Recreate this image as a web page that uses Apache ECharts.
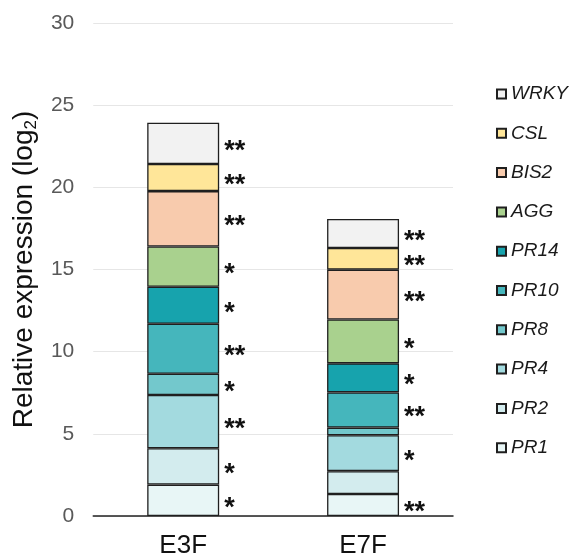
<!DOCTYPE html>
<html>
<head>
<meta charset="utf-8">
<script src="https://cdn.jsdelivr.net/npm/echarts@6/dist/echarts.min.js"></script>
<style>
html,body{margin:0;padding:0;background:#fff;}
#chart{width:573px;height:559px;}
</style>
</head>
<body>
<div id="chart"></div>
<script>
// Categories and tick settings
const categories = ['E3F', 'E7F'];
const yTicks = [0, 5, 10, 15, 20, 25, 30];

// Segment values (log2 relative expression), stacked bottom to top
const PR1  = [1.91, 1.34];
const PR2  = [2.21, 1.39];
const PR4  = [3.24, 2.18];
const PR8  = [1.30, 0.47];
const PR10 = [3.04, 2.14];
const PR14 = [2.25, 1.77];
const AGG  = [2.45, 2.67];
const BIS2 = [3.37, 3.03];
const CSL  = [1.65, 1.32];
const WRKY = [2.51, 1.76];

// Significance marks per segment
const sigPR1  = ['*', '**'];
const sigPR2  = ['*', ''];
const sigPR4  = ['**', '*'];
const sigPR8  = ['*', ''];
const sigPR10 = ['**', '**'];
const sigPR14 = ['*', '*'];
const sigAGG  = ['*', '*'];
const sigBIS2 = ['**', '**'];
const sigCSL  = ['**', '**'];
const sigWRKY = ['**', '**'];

const seriesNames = ['PR1', 'PR2', 'PR4', 'PR8', 'PR10', 'PR14', 'AGG', 'BIS2', 'CSL', 'WRKY'];
const seriesValues = [PR1, PR2, PR4, PR8, PR10, PR14, AGG, BIS2, CSL, WRKY];
const seriesSig = [sigPR1, sigPR2, sigPR4, sigPR8, sigPR10, sigPR14, sigAGG, sigBIS2, sigCSL, sigWRKY];
const seriesColors = ['#e8f6f6', '#d3ecee', '#a3dadf', '#73c8cc', '#45b6bc', '#17a3ad', '#a9d18e', '#f8cbad', '#ffe699', '#f2f2f2'];
const legendOrder = ['WRKY', 'CSL', 'BIS2', 'AGG', 'PR14', 'PR10', 'PR8', 'PR4', 'PR2', 'PR1'];

const FONT = '"Liberation Sans", Arial, sans-serif';

const chart = echarts.init(document.getElementById('chart'));

const series = seriesNames.map((name, i) => ({
  name: name,
  type: 'bar',
  stack: 'total',
  barWidth: '40%',
  data: seriesValues[i],
  itemStyle: { color: seriesColors[i], borderColor: '#1f1f1f', borderWidth: 1.3 },
  label: {
    show: true,
    position: 'right',
    distance: 5,
    offset: [0, 8],
    fontFamily: FONT,
    fontSize: 27,
    fontWeight: 'bold',
    color: '#111',
    formatter: p => seriesSig[i][p.dataIndex]
  },
  emphasis: { disabled: true }
}));

chart.setOption({
  animation: false,
  backgroundColor: '#ffffff',
  grid: { left: 91, right: 120, top: 23, bottom: 43 },
  legend: {
    data: legendOrder,
    orient: 'vertical',
    left: 496,
    top: 84,
    padding: 0,
    itemWidth: 9,
    itemHeight: 9,
    itemGap: 19.3,
    icon: 'rect',
    textStyle: { fontFamily: FONT, fontSize: 19, fontStyle: 'italic', color: '#1a1a1a', lineHeight: 20 }
  },
  xAxis: {
    type: 'category',
    data: categories,
    axisLine: { lineStyle: { color: '#222', width: 1.5 } },
    axisTick: { show: false },
    axisLabel: { fontFamily: FONT, fontSize: 26, color: '#111', margin: 17 }
  },
  yAxis: {
    type: 'value',
    min: yTicks[0],
    max: yTicks[yTicks.length - 1],
    interval: yTicks[1] - yTicks[0],
    name: 'Relative expression (log{s|2})',
    nameLocation: 'middle',
    nameGap: 53,
    nameTextStyle: {
      fontFamily: FONT, fontSize: 28, color: '#111', lineHeight: 32,
      rich: { s: { fontFamily: FONT, fontSize: 17, color: '#111', lineHeight: 12, verticalAlign: 'bottom' } }
    },
    axisLine: { show: false },
    axisTick: { show: false },
    splitLine: { lineStyle: { color: '#e6e6e6', width: 1 } },
    axisLabel: { fontFamily: FONT, fontSize: 21, color: '#595959', margin: 19 }
  },
  series: series
});
</script>
</body>
</html>
